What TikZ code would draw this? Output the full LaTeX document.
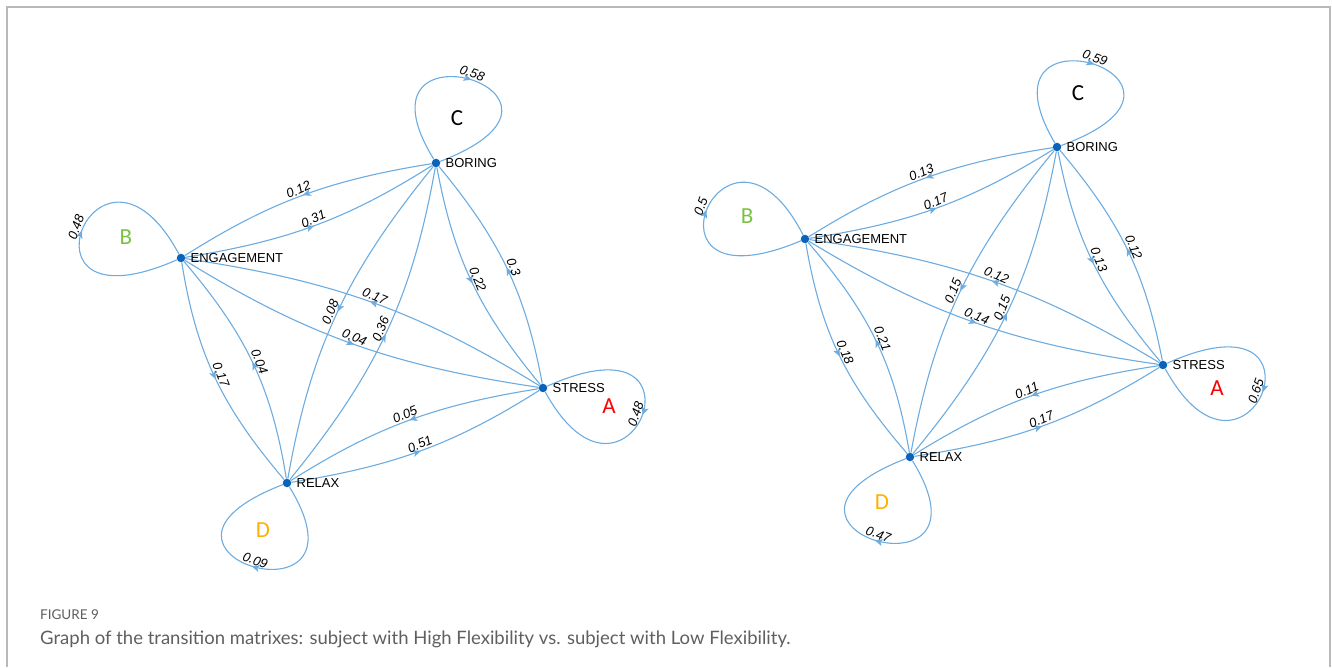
\documentclass[tikz,border=0pt]{standalone}
\usepackage{fontspec}
\setmainfont{Liberation Sans}
\newfontfamily\capfont{Lato}
\newfontfamily\letterfont{Carlito}
\usetikzlibrary{arrows.meta,decorations.markings}
\definecolor{edgeblue}{RGB}{108,172,224}
\definecolor{nodeblue}{RGB}{10,98,186}
\definecolor{lettergreen}{RGB}{122,193,66}
\definecolor{letterorange}{RGB}{255,176,0}
\definecolor{framegray}{RGB}{185,185,185}
\definecolor{capgray}{RGB}{95,95,95}
% horizontal stretch of the graph plots
\newcommand{\xs}{1.18}
\begin{document}
\begin{tikzpicture}[x=1pt,y=1pt,
  state/.style={circle,fill=nodeblue,inner sep=0pt,minimum size=8.5pt},
  statename/.style={anchor=west,inner sep=0pt,font=\fontsize{13}{15}\selectfont},
  trans/.style={color=edgeblue,line width=1.1pt,postaction={decorate},
    decoration={markings,mark=at position 0.5 with {\arrow{Stealth[length=8pt,width=7pt,inset=2pt]}}}},
  wt/.style={sloped,above,pos=0.5,inner sep=1.5pt,text=black,
    font=\fontsize{13}{15}\selectfont\itshape},
  tag/.style={font=\letterfont\fontsize{23}{25}\selectfont,inner sep=0pt},
]
\useasboundingbox (0,0) rectangle (1332,667);

% frame around the figure (open at the bottom)
\draw[framegray,line width=2pt] (7,0) -- (7,660) -- (1330,660) -- (1330,0);

% ---------- High Flexibility ----------
\begin{scope}[xscale=\xs]
  \node[state] (Bo1) at ({436/\xs},504) {};
  \node[state] (E1)  at ({181/\xs},409) {};
  \node[state] (S1)  at ({543/\xs},279) {};
  \node[state] (R1)  at ({287/\xs},184) {};

  % self transitions
  \draw[trans] (Bo1) .. controls +(117.5:170) and +(24.5:170) .. (Bo1) node[wt]{0.58};
  \draw[trans] (E1)  .. controls +(207.5:170) and +(114.5:170) .. (E1) node[wt]{0.48};
  \draw[trans] (S1)  .. controls +(27.9:170) and +(-65.1:170) .. (S1) node[wt]{0.48};
  \draw[trans] (R1)  .. controls +(297.5:170) and +(204.5:170) .. (R1) node[wt]{0.09};

  % transitions between states
  \draw[trans] (E1)  to[bend right=13] node[wt]{0.31} (Bo1);
  \draw[trans] (Bo1) to[bend right=13] node[wt]{0.12} (E1);
  \draw[trans] (E1)  to[bend right=13] node[wt]{0.04} (S1);
  \draw[trans] (S1)  to[bend right=13] node[wt]{0.17} (E1);
  \draw[trans] (Bo1) to[bend right=13] node[wt]{0.22} (S1);
  \draw[trans] (S1)  to[bend right=13] node[wt]{0.3} (Bo1);
  \draw[trans] (Bo1) to[bend right=13] node[wt]{0.08} (R1);
  \draw[trans] (R1)  to[bend right=13] node[wt]{0.36} (Bo1);
  \draw[trans] (E1)  to[bend right=14] node[wt]{0.17} (R1);
  \draw[trans] (R1)  to[bend right=14] node[wt]{0.04} (E1);
  \draw[trans] (R1)  to[bend right=13] node[wt]{0.51} (S1);
  \draw[trans] (S1)  to[bend right=13] node[wt]{0.05} (R1);
\end{scope}
\node[statename] (Bo1n) at ([xshift=5pt]Bo1.east) {BORING};
\node[statename] (E1n)  at ([xshift=5pt]E1.east) {ENGAGEMENT};
\node[statename] (S1n)  at ([xshift=5pt]S1.east) {STRESS};
\node[statename] (R1n)  at ([xshift=5pt]R1.east) {RELAX};
\node[tag] (C1) at (457,549) {C};
\node[tag,text=lettergreen] (B1) at (126,430) {B};
\node[tag,text=red] (A1) at (609,261) {A};
\node[tag,text=letterorange] (D1) at (263,137) {D};

% ---------- Low Flexibility ----------
\begin{scope}[xscale=\xs]
  \node[state] (Bo2) at ({1057/\xs},520) {};
  \node[state] (E2)  at ({805/\xs},428) {};
  \node[state] (S2)  at ({1163/\xs},302) {};
  \node[state] (R2)  at ({910/\xs},210) {};

  % self transitions
  \draw[trans] (Bo2) .. controls +(116.5:170) and +(23.5:170) .. (Bo2) node[wt]{0.59};
  \draw[trans] (E2)  .. controls +(206.5:170) and +(113.5:170) .. (E2) node[wt]{0.5};
  \draw[trans] (S2)  .. controls +(27.9:170) and +(-65.1:170) .. (S2) node[wt]{0.65};
  \draw[trans] (R2)  .. controls +(297.5:170) and +(204.5:170) .. (R2) node[wt]{0.47};

  % transitions between states
  \draw[trans] (E2)  to[bend right=13] node[wt]{0.17} (Bo2);
  \draw[trans] (Bo2) to[bend right=13] node[wt]{0.13} (E2);
  \draw[trans] (E2)  to[bend right=13] node[wt]{0.14} (S2);
  \draw[trans] (S2)  to[bend right=13] node[wt]{0.12} (E2);
  \draw[trans] (Bo2) to[bend right=13] node[wt]{0.13} (S2);
  \draw[trans] (S2)  to[bend right=13] node[wt]{0.12} (Bo2);
  \draw[trans] (Bo2) to[bend right=13] node[wt]{0.15} (R2);
  \draw[trans] (R2)  to[bend right=13] node[wt]{0.15} (Bo2);
  \draw[trans] (E2)  to[bend right=14] node[wt]{0.18} (R2);
  \draw[trans] (R2)  to[bend right=14] node[wt]{0.21} (E2);
  \draw[trans] (R2)  to[bend right=13] node[wt]{0.17} (S2);
  \draw[trans] (S2)  to[bend right=13] node[wt]{0.11} (R2);
\end{scope}
\node[statename] (Bo2n) at ([xshift=5pt]Bo2.east) {BORING};
\node[statename] (E2n)  at ([xshift=5pt]E2.east) {ENGAGEMENT};
\node[statename] (S2n)  at ([xshift=5pt]S2.east) {STRESS};
\node[statename] (R2n)  at ([xshift=5pt]R2.east) {RELAX};
\node[tag] (C2) at (1078,574) {C};
\node[tag,text=lettergreen] (B2) at (747,451) {B};
\node[tag,text=red] (A2) at (1217,279) {A};
\node[tag,text=letterorange] (D2) at (882,165) {D};

% ---------- caption ----------
\node[anchor=base west,inner sep=0pt,text=capgray,font=\capfont\fontsize{13.5}{15}\selectfont] (fignum) at (40,48) {FIGURE 9};
\node[anchor=base west,inner sep=0pt,text=capgray,font=\capfont\fontsize{18.5}{21}\selectfont] (figcap) at (40,23)
  {Graph of the transition matrixes: subject with High Flexibility vs. subject with Low Flexibility.};
\end{tikzpicture}
\end{document}
